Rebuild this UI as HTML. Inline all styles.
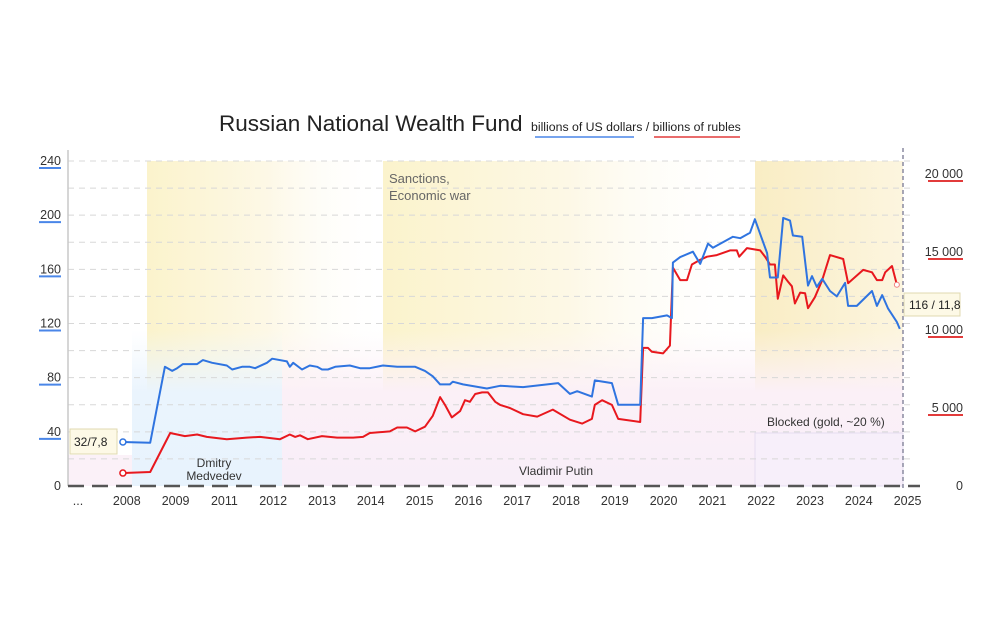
<!DOCTYPE html>
<html><head><meta charset="utf-8"><style>
body{margin:0;background:#fff;width:1000px;height:625px;overflow:hidden;font-family:"Liberation Sans","DejaVu Sans",sans-serif}
svg{position:absolute;left:0;top:0}
</style></head><body>
<svg id="chart" width="1000" height="625">
<defs>
<linearGradient id="y1" x1="0" x2="1" y1="0" y2="0"><stop offset="0" stop-color="#fbf3cc"/><stop offset="0.5" stop-color="#fdf8e6"/><stop offset="1" stop-color="#ffffff" stop-opacity="0"/></linearGradient>
<linearGradient id="y3" x1="0" x2="1" y1="0" y2="0"><stop offset="0" stop-color="#f9edc4"/><stop offset="1" stop-color="#fcf5df"/></linearGradient>
<linearGradient id="pk" x1="0" x2="0" y1="0" y2="1"><stop offset="0" stop-color="#fdf3f8" stop-opacity="0"/><stop offset="0.4" stop-color="#fbf0f7"/><stop offset="1" stop-color="#f8eef8"/></linearGradient>
<linearGradient id="bl" x1="0" x2="0" y1="0" y2="1"><stop offset="0" stop-color="#eef6fd" stop-opacity="0"/><stop offset="0.4" stop-color="#eaf4fd"/><stop offset="1" stop-color="#e8f3fd"/></linearGradient>
</defs>
<g id="bg"></g>
<g id="grid"></g>
<g id="series"></g>
<g id="labels"></g>
</svg>
<script>
const xTickLabels=["...","2008","2009","2011","2012","2013","2014","2015","2016","2017","2018","2019","2020","2021","2022","2023","2024","2025"];
const leftTicks=[0,40,80,120,160,200,240];
const rightTicks=[0,5000,10000,15000,20000];
const rightTickLabels=["0","5 000","10 000","15 000","20 000"];
const usdT=[0.92,1.48,1.78,1.93,2.03,2.15,2.44,2.56,2.75,3.05,3.16,3.36,3.52,3.63,3.87,3.98,4.28,4.34,4.41,4.59,4.75,4.90,5.00,5.12,5.27,5.57,5.78,5.98,6.25,6.54,6.91,7.11,7.27,7.42,7.62,7.68,7.89,8.38,8.65,9.12,9.84,10.08,10.23,10.53,10.59,10.94,11.07,11.52,11.58,11.76,12.07,12.17,12.19,12.34,12.60,12.75,12.91,13.01,13.42,13.57,13.77,13.87,14.00,14.12,14.18,14.34,14.45,14.59,14.65,14.84,14.96,15.04,15.14,15.25,15.41,15.55,15.72,15.78,15.96,16.27,16.37,16.48,16.60,16.78,16.84];
const usdV=[32.5,32,88,85,87,90,90,93,91,89,86,88,88,87,91,94,92,88,91,86,89,88,86,86,88,89,87,87,89,88,88,85,81,75,75,77,75,72,74,73,76,68,70,66,78,76,60,60,124,124,126,124,165,169,173,164,179,176,184,183,187,197,184,172,154,154,198,196,185,184,148,155,147,153,144,140,150,133,133,144,133,141,131,121,116];
const rubT=[0.92,1.48,1.89,2.19,2.44,2.64,3.05,3.46,3.73,4.14,4.34,4.45,4.55,4.71,5.00,5.31,5.64,5.84,5.98,6.39,6.54,6.74,6.91,7.11,7.27,7.42,7.52,7.66,7.83,7.93,8.03,8.14,8.28,8.40,8.55,8.65,8.85,9.12,9.41,9.73,10.08,10.33,10.53,10.59,10.74,10.94,11.07,11.52,11.58,11.68,11.76,11.99,12.13,12.19,12.34,12.48,12.58,12.75,12.89,13.09,13.36,13.50,13.55,13.71,13.98,14.08,14.18,14.28,14.34,14.45,14.55,14.63,14.69,14.80,14.90,14.96,15.10,15.25,15.41,15.68,15.78,16.09,16.27,16.37,16.48,16.54,16.68,16.78];
const rubV=[830,900,3400,3200,3300,3150,3000,3100,3150,3000,3300,3150,3250,3000,3200,3100,3100,3150,3400,3500,3750,3750,3500,3800,4500,5700,5200,4400,4800,5500,5400,5900,6000,6000,5400,5200,5000,4600,4450,4900,4250,4000,4300,5200,5500,5200,4300,4100,8850,8850,8600,8500,9000,14000,13200,13200,14200,14500,14700,14800,15100,15100,14700,15250,15100,14700,14200,14200,12000,13500,13100,12800,11700,12400,12350,11400,12100,13200,14800,14550,13000,13850,13700,13200,13200,13700,14100,12900];

const NS="http://www.w3.org/2000/svg";
const X=t=>78+t*48.8;
const YL=v=>486-v*325/240;
const YR=v=>486-v*312/20000;
function mk(tag,attrs,parent,text){const e=document.createElementNS(NS,tag);for(const k in attrs)e.setAttribute(k,attrs[k]);if(text!==undefined)e.textContent=text;document.getElementById(parent).appendChild(e);return e;}

let e;
e=mk('rect',{x:147,y:161,width:240,height:325,fill:'url(#y1)'},'bg');


e=mk('rect',{x:383,y:161,width:372,height:325,fill:'url(#y1)'},'bg');


e=mk('rect',{x:755,y:161,width:148,height:325,fill:'url(#y3)'},'bg');


e=mk('rect',{x:282,y:330,width:621,height:156,fill:'url(#pk)'},'bg');


e=mk('rect',{x:132,y:330,width:150,height:156,fill:'url(#bl)'},'bg');


e=mk('rect',{x:68,y:455,width:64,height:31,fill:'#fbf1f8'},'bg');


e=mk('rect',{x:755,y:433,width:148,height:53,fill:'#f7effa',stroke:'#e6dcf0','stroke-width':1},'bg');



for(let v=20;v<=240;v+=20){
 e=mk('line',{x1:68,x2:915,y1:YL(v),y2:YL(v),stroke:'#d8d8d8','stroke-dasharray':'6,5','stroke-width':1},'grid');
 
 
}
e=mk('line',{x1:68,x2:68,y1:150,y2:486,stroke:'#c8c8c8','stroke-width':1.5},'grid');


e=mk('line',{x1:68,x2:920,y1:486,y2:486,stroke:'#555','stroke-width':2.5,'stroke-dasharray':'16,8'},'grid');


e=mk('line',{x1:903,x2:903,y1:148,y2:490,stroke:'#8a8aa0','stroke-width':1.5,'stroke-dasharray':'4,3'},'grid');



leftTicks.forEach(v=>{
 const t=mk('text',{x:61,y:YL(v)+4,'text-anchor':'end','font-size':12.5,fill:'#333'},'labels',String(v));
 
 
 if(v>0){const u=mk('line',{x1:39,x2:61,y1:YL(v)+7,y2:YL(v)+7,stroke:'#4a86e8','stroke-width':2},'labels');
 
 }
});
rightTicks.forEach((v,i)=>{
 const t=mk('text',{x:963,y:YR(v)+4,'text-anchor':'end','font-size':12.5,fill:'#333'},'labels',rightTickLabels[i]);
 
 
 if(v>0){const u=mk('line',{x1:928,x2:963,y1:YR(v)+7,y2:YR(v)+7,stroke:'#e23b3b','stroke-width':2},'labels');
 
 }
});
xTickLabels.forEach((s,i)=>{
 const t=mk('text',{x:X(i),y:505,'text-anchor':'middle','font-size':12.5,fill:'#333'},'labels',s);
 
 
});

function path(ts,vs,ys){return ts.map((t,i)=>(i?'L':'M')+X(t).toFixed(1)+','+ys(vs[i]).toFixed(1)).join('');}
e=mk('path',{d:path(rubT,rubV,YR),fill:'none',stroke:'#e8181e','stroke-width':2,'stroke-linejoin':'round'},'series');


e=mk('path',{d:path(usdT,usdV,YL),fill:'none',stroke:'#2f74e0','stroke-width':2,'stroke-linejoin':'round'},'series');


e=mk('circle',{cx:X(usdT[0]),cy:YL(usdV[0]),r:3,fill:'#fff',stroke:'#2f74e0','stroke-width':1.5},'series');


e=mk('circle',{cx:X(rubT[0]),cy:YR(rubV[0]),r:3,fill:'#fff',stroke:'#e8181e','stroke-width':1.5},'series');


e=mk('circle',{cx:X(rubT[rubT.length-1]),cy:YR(rubV[rubV.length-1]),r:2.5,fill:'#fff',stroke:'#f08080','stroke-width':1},'series');


</script>
<svg width="1000" height="625" style="pointer-events:none">
<text x="219" y="131" font-size="22.5" fill="#222">Russian National Wealth Fund</text>
<text x="531" y="131" font-size="12.3" fill="#222">billions of US dollars / billions of rubles</text>
<line x1="535" x2="634" y1="137" y2="137" stroke="#4a86e8" stroke-width="1.5"/>
<line x1="654" x2="740" y1="137" y2="137" stroke="#e23b3b" stroke-width="1.5"/>
<text x="389" y="183" font-size="13" fill="#666">Sanctions,</text>
<text x="389" y="200" font-size="13" fill="#666">Economic war</text>
<text x="214" y="467" font-size="12" fill="#333" text-anchor="middle">Dmitry</text>
<text x="214" y="480" font-size="12" fill="#333" text-anchor="middle">Medvedev</text>
<text x="556" y="475" font-size="12" fill="#333" text-anchor="middle">Vladimir Putin</text>
<text x="767" y="426" font-size="12" fill="#333">Blocked (gold, ~20 %)</text>
<rect x="70" y="429" width="47" height="25" fill="#fdf9e6" stroke="#e0d9b0"/>
<text x="74" y="446" font-size="12" fill="#222">32/7,8</text>
<rect x="904" y="293" width="56" height="23" fill="#fdf9e6" stroke="#e0d9b0"/>
<text x="909" y="309" font-size="12" fill="#222">116 / 11,8</text>
</svg>
</body></html>
